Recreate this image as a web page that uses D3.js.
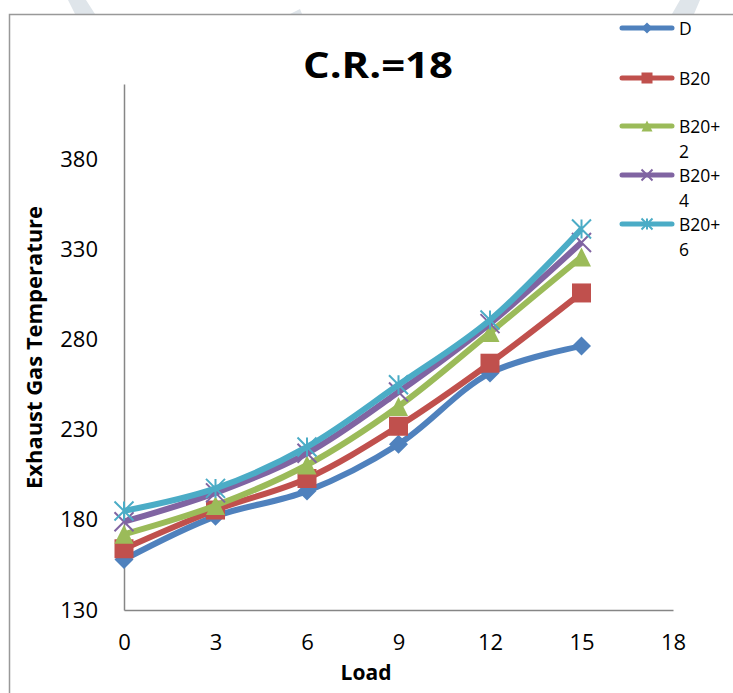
<!DOCTYPE html>
<html>
<head>
<meta charset="utf-8">
<script src="https://cdn.jsdelivr.net/npm/d3@7"></script>
<style>
  body { margin: 0; background: #fff; }
  svg { display: block; font-family: "Open Sans", Lato, sans-serif; }
</style>
</head>
<body>
<script>
// data
const loads = [0, 3, 6, 9, 12, 15];
const seriesNames = ["D", "B20", "B20+2", "B20+4", "B20+6"];
const dVals = [158, 182, 196, 222, 261.5, 276.5];
const b20Vals = [164, 185.5, 203, 232, 267, 306];
const b20p2Vals = [172, 188, 210.5, 243, 284, 326];
const b20p4Vals = [179, 195, 217, 251, 289, 334];
const b20p6Vals = [185, 197.5, 220.5, 255, 291, 341.5];
const yTicks = [130, 180, 230, 280, 330, 380];
const xTicks = [0, 3, 6, 9, 12, 15, 18];

const colors = ["#4F81BD", "#C0504D", "#9BBB59", "#8064A2", "#4BACC6"];
const symbols = ["diamond", "square", "triangle", "x", "star"];
const allVals = [dVals, b20Vals, b20p2Vals, b20p4Vals, b20p6Vals];

const width = 733, height = 693;

const svg = d3.select("body").append("svg")
    .attr("width", width)
    .attr("height", height);

// faint watermark shapes at top
const wm = [[[68,0],[86,0],[95,14],[75,14]], [[680,0],[700,0],[694,14],[672,14]], [[290,14],[300,9],[302,14]]];
svg.selectAll("polygon.wm").data(wm).enter().append("polygon")
    .attr("points", d => d.map(p => p.join(",")).join(" "))
    .attr("fill", "#dfe5ea");

// outer chart frame
svg.append("rect")
    .attr("x", 9.5).attr("y", 14.5)
    .attr("width", 800).attr("height", 800)
    .attr("fill", "none")
    .attr("stroke", "#999")
    .attr("stroke-width", 1.5);

const x = d3.scaleLinear().domain([0, 18]).range([124, 673]);
const y = d3.scaleLinear().domain([130, 422]).range([610, 84]);

// axes
const xAxis = svg.append("g").attr("transform", "translate(0,610)")
    .call(d3.axisBottom(x).tickValues(xTicks).tickSize(0).tickPadding(24));
const yAxis = svg.append("g").attr("transform", "translate(124,0)")
    .call(d3.axisLeft(y).tickValues(yTicks).tickSize(0).tickPadding(26));

[xAxis, yAxis].forEach(g => {
    g.select(".domain").attr("stroke", "#868686").attr("stroke-width", 1.5);
    g.selectAll("text")
        .attr("font-family", "'Open Sans', Lato, sans-serif")
        .attr("font-size", 22)
        .attr("fill", "#000");
});
xAxis.selectAll("text").attr("dy", "0.71em");

// titles
svg.append("text")
    .attr("x", 303).attr("y", 78)
    .attr("font-size", 36).attr("font-weight", "bold")
    .attr("textLength", 150).attr("lengthAdjust", "spacingAndGlyphs")
    .text("C.R.=18");

svg.append("text")
    .attr("x", 366).attr("y", 680)
    .attr("text-anchor", "middle")
    .attr("font-size", 21).attr("font-weight", "bold")
    .text("Load");

svg.append("text")
    .attr("transform", "translate(42,489) rotate(-90)")
    .attr("font-size", 21).attr("font-weight", "bold")
    .attr("textLength", 283).attr("lengthAdjust", "spacingAndGlyphs")
    .text("Exhaust Gas Temperature");

// marker drawing
function marker(g, type, cx, cy, s, color) {
    if (type === "diamond") {
        g.append("path").attr("d", `M${cx},${cy - s/2}L${cx + s/2},${cy}L${cx},${cy + s/2}L${cx - s/2},${cy}Z`)
            .attr("fill", color);
    } else if (type === "square") {
        g.append("rect").attr("x", cx - s/2).attr("y", cy - s/2)
            .attr("width", s).attr("height", s).attr("fill", color);
    } else if (type === "triangle") {
        g.append("path").attr("d", `M${cx},${cy - s/2}L${cx + s/2},${cy + s/2}L${cx - s/2},${cy + s/2}Z`)
            .attr("fill", color);
    } else if (type === "x") {
        const h = s / 2;
        g.append("path").attr("d", `M${cx - h},${cy - h}L${cx + h},${cy + h}M${cx - h},${cy + h}L${cx + h},${cy - h}`)
            .attr("stroke", color).attr("stroke-width", 2);
    } else if (type === "star") {
        const h = s / 2;
        g.append("path").attr("d", `M${cx - h},${cy - h}L${cx + h},${cy + h}M${cx - h},${cy + h}L${cx + h},${cy - h}M${cx},${cy - h}L${cx},${cy + h}`)
            .attr("stroke", color).attr("stroke-width", 2);
    }
}

const line = d3.line()
    .x((d, i) => x(loads[i]))
    .y(d => y(d))
    .curve(d3.curveCatmullRom);

allVals.forEach((vals, k) => {
    const g = svg.append("g");
    g.append("path")
        .attr("d", line(vals))
        .attr("fill", "none")
        .attr("stroke", colors[k])
        .attr("stroke-width", 6)
        .attr("stroke-linejoin", "round");
    vals.forEach((v, i) => marker(g, symbols[k], x(loads[i]), y(v), 19, colors[k]));
});

// legend
const legendY = [28, 78, 126, 175, 224];
const legendLines = [["D"], ["B20"], ["B20+", "2"], ["B20+", "4"], ["B20+", "6"]];
legendY.forEach((ly, k) => {
    const g = svg.append("g");
    g.append("line")
        .attr("x1", 622).attr("x2", 672)
        .attr("y1", ly).attr("y2", ly)
        .attr("stroke", colors[k]).attr("stroke-width", 5)
        .attr("stroke-linecap", "round");
    marker(g, symbols[k], 647, ly, 11, colors[k]);
    g.append("text")
        .attr("x", 679).attr("y", ly + 7)
        .attr("font-size", 17.5)
        .selectAll("tspan").data(legendLines[k]).enter().append("tspan")
        .attr("x", 679)
        .attr("dy", (d, i) => i === 0 ? 0 : 25)
        .text(d => d);
});
</script>
</body>
</html>
